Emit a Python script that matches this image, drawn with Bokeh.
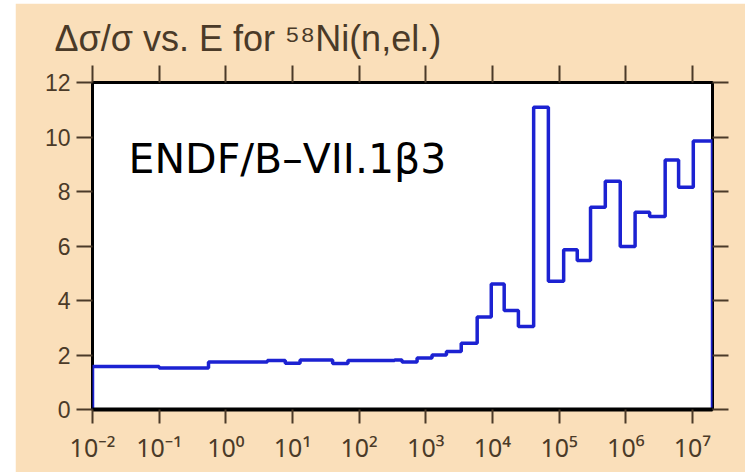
from bokeh.plotting import figure
from bokeh.models import (Range1d, LogAxis, LinearAxis, FixedTicker,
                          CustomJSTickFormatter, Label, Spacer)
from bokeh.layouts import row, column
from bokeh.embed import file_html
from bokeh.resources import INLINE

# Energy group boundaries (eV) for the 58Ni elastic covariance
energy_edges = [1e-2, 0.1, 0.55, 4.2, 7.8, 13, 40, 68, 340, 440, 740,
                1240, 2040, 3400, 5900, 9600, 1.5e4, 2.45e4, 4.15e4, 6.9e4,
                1.17e5, 1.87e5, 2.96e5, 4.93e5, 8.26e5, 1.38e6, 2.28e6,
                3.9e6, 6.2e6, 1.03e7, 2.0e7]
# Relative uncertainty (%) in each group
rel_uncertainty = [1.58, 1.52, 1.74, 1.80, 1.70, 1.82, 1.69, 1.80, 1.82, 1.74,
                   1.89, 2.00, 2.13, 2.43, 3.39, 4.61, 3.63, 3.05, 11.09, 4.71,
                   5.86, 5.47, 7.42, 8.38, 5.98, 7.24, 7.08, 9.16, 8.16, 9.85]

decades = [1e-2, 1e-1, 1e0, 1e1, 1e2, 1e3, 1e4, 1e5, 1e6, 1e7]
decade_exponents = ["-2", "-1", "0", "1", "2", "3", "4", "5", "6", "7"]
y_ticks = [0, 2, 4, 6, 8, 10, 12]

BEIGE = "#fadfba"
INK = "#4a3a28"
BLUE = "#1c22d2"
FONT = "Liberation Sans"

SUPERSCRIPT = str.maketrans("-0123456789", "\u207b\u2070\u00b9\u00b2\u00b3\u2074\u2075\u2076\u2077\u2078\u2079")
decade_labels = ["10" + e.translate(SUPERSCRIPT) for e in decade_exponents]

# Closed histogram outline: rise from zero at the first edge, drop at the last
xs = [energy_edges[0]]
ys = [0]
for lo, hi, v in zip(energy_edges[:-1], energy_edges[1:], rel_uncertainty):
    xs += [lo, hi]
    ys += [v, v]
xs.append(energy_edges[-1])
ys.append(0)

p = figure(x_axis_type="log", x_range=Range1d(1e-2, 2e7), y_range=Range1d(0, 12),
           width=730, height=469,
           min_border_left=77, min_border_right=33,
           min_border_top=79, min_border_bottom=63,
           output_backend="svg", toolbar_location=None,
           background_fill_color="white", border_fill_color=BEIGE,
           outline_line_color="black", outline_line_width=3)
p.grid.visible = False

# heading
p.title.text = "\u0394\u03c3/\u03c3 vs. E for " + "58".translate(SUPERSCRIPT) + "Ni(n,el.)"
p.title.align = "left"
p.title.offset = -38
p.title.text_font = FONT
p.title.text_font_size = "36px"
p.title.text_font_style = "normal"
p.title.text_color = INK
p.title.standoff = 14

p.line(xs, ys, line_color=BLUE, line_width=3.5)

blank = CustomJSTickFormatter(code="return ''")


def style_axis(ax, ticks, tick_len):
    ax.ticker = FixedTicker(ticks=ticks, minor_ticks=[])
    ax.major_tick_out = tick_len
    ax.major_tick_in = 0
    ax.minor_tick_out = 0
    ax.minor_tick_in = 0
    ax.major_tick_line_color = INK
    ax.major_tick_line_width = 2
    ax.axis_line_color = None


# bottom axis with power-of-ten labels
xb = p.xaxis[0]
style_axis(xb, decades, 14)
xb.formatter = CustomJSTickFormatter(args=dict(labels=decade_labels),
                                     code="return labels[index]")
xb.axis_line_color = "black"
xb.axis_line_width = 4
xb.major_label_text_font = "Noto Sans"
xb.major_label_text_font_size = "25px"
xb.major_label_text_color = INK
xb.major_label_standoff = 6

# left axis with numeric labels
yl = p.yaxis[0]
style_axis(yl, y_ticks, 16)
yl.major_label_text_font = FONT
yl.major_label_text_font_size = "23px"
yl.major_label_text_color = INK
yl.major_label_standoff = 6

top = LogAxis(formatter=blank)
style_axis(top, decades, 17)
p.add_layout(top, "above")

right = LinearAxis(formatter=blank)
style_axis(right, y_ticks, 16)
p.add_layout(right, "right")

# library tag inside the frame
p.add_layout(Label(x=1e-2, y=12, x_offset=36, y_offset=-76,
                   text="ENDF/B\u2013VII.1\u03b23",
                   text_align="left", text_baseline="alphabetic",
                   text_font="DejaVu Sans", text_font_size="41px",
                   text_color="black"))

layout = column(Spacer(height=3), row(Spacer(width=15), p))

open("out.html", "w").write(file_html(layout, INLINE))
